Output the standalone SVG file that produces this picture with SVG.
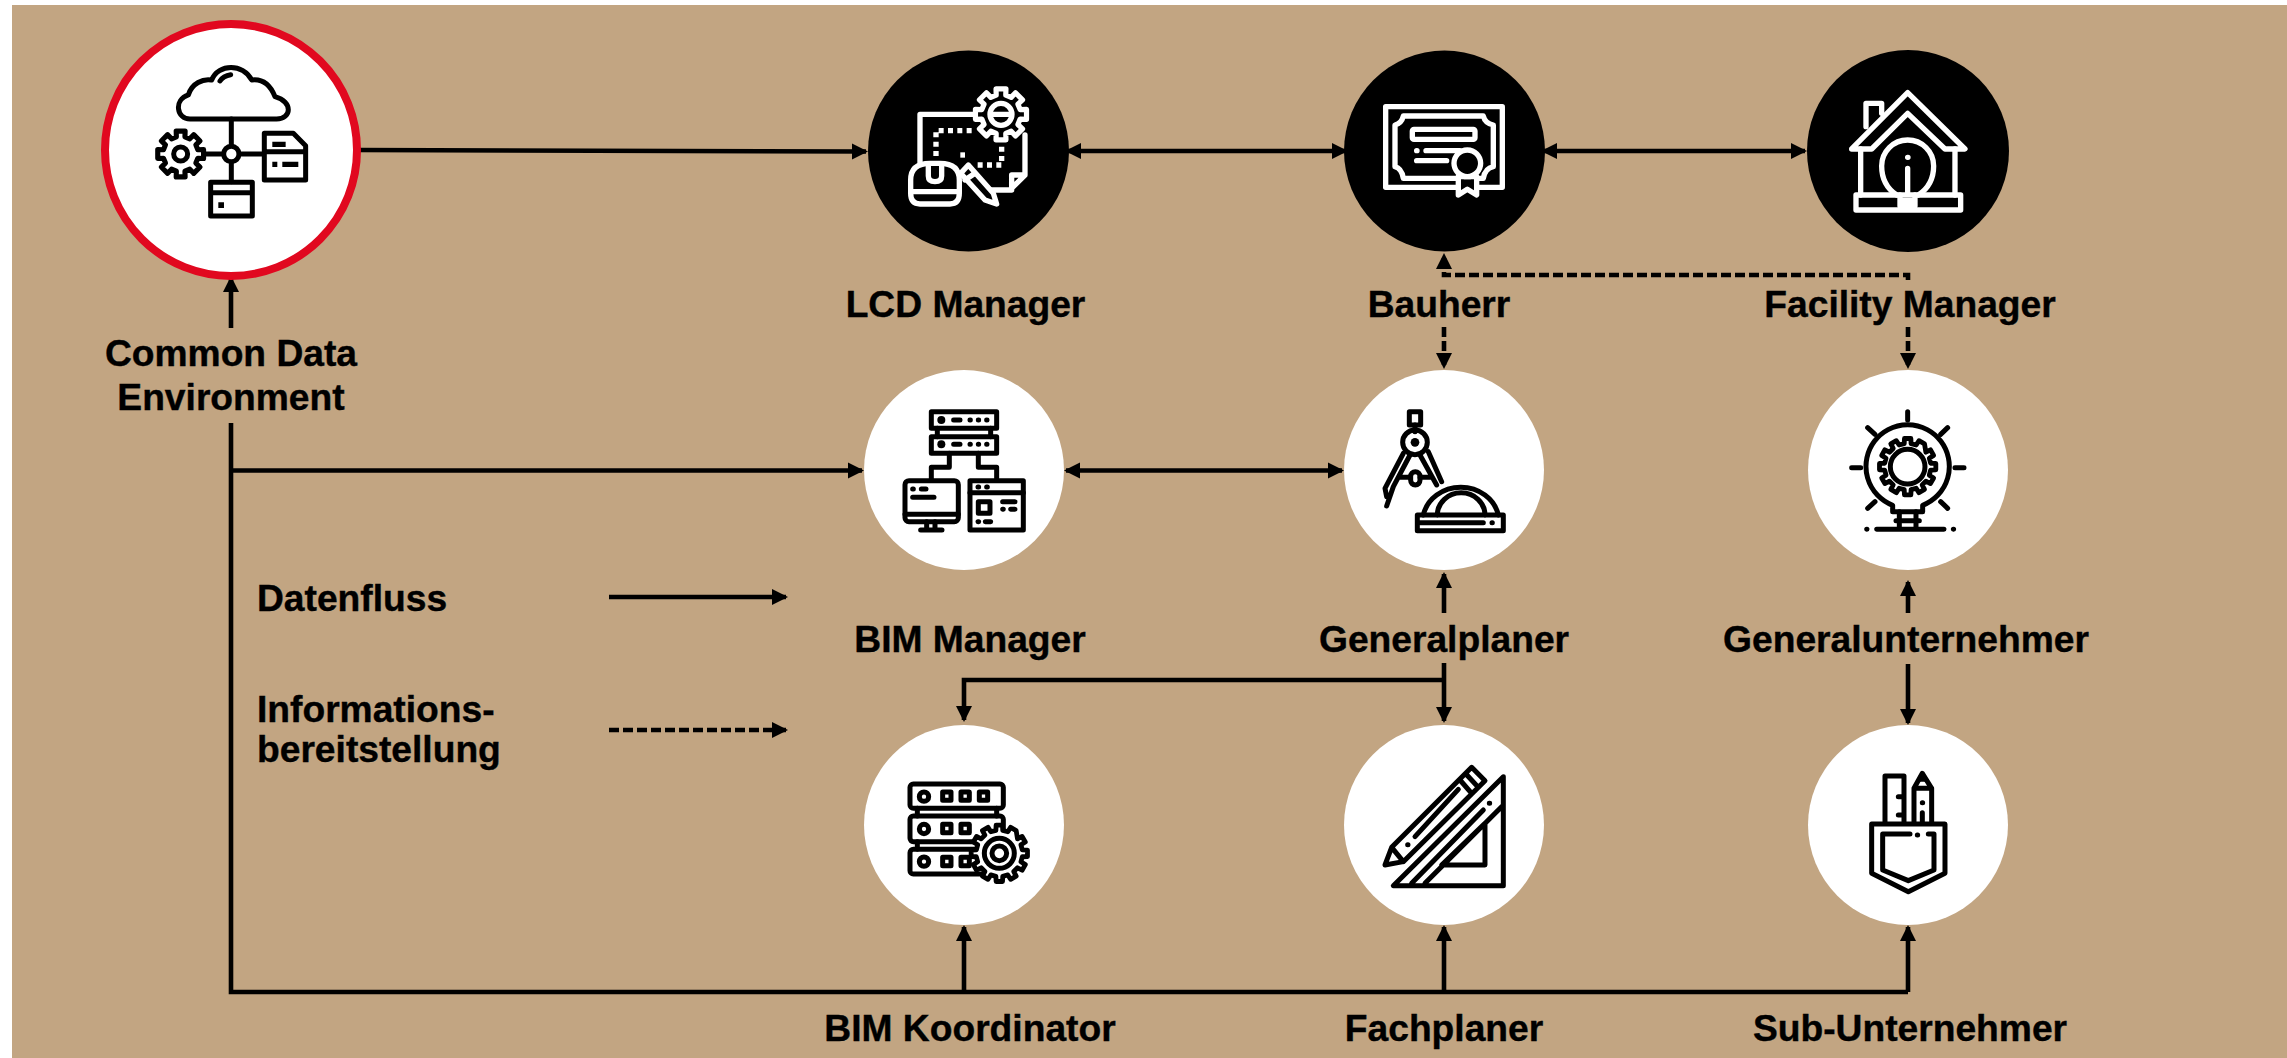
<svg xmlns="http://www.w3.org/2000/svg" width="2287" height="1058" viewBox="0 0 2287 1058">
<style>
text{font-family:"Liberation Sans",Arial,sans-serif;font-weight:700;font-size:37.2px;fill:#000;stroke:#000;stroke-width:.4px;text-anchor:middle}
.l{text-anchor:start}
.c{fill:none;stroke:#000;stroke-width:4.6}
.d{stroke-dasharray:10 4}
.s{marker-end:url(#a)}
.b{marker-start:url(#a);marker-end:url(#a)}
.k{fill:none;stroke:#000;stroke-width:15;stroke-linecap:round;stroke-linejoin:round}
.w{fill:none;stroke:#fff;stroke-width:16;stroke-linecap:round;stroke-linejoin:round}
.fk{fill:#000;stroke:none}
.fw{fill:#fff;stroke:none}
</style>
<defs>
<marker id="a" markerUnits="userSpaceOnUse" markerWidth="17" markerHeight="17" refX="14" refY="8.5" orient="auto-start-reverse"><path d="M0,0.5 L16,8.5 L0,16.5 Z"/></marker>
<path id="g8" d="M73.7,-18.4 L98.2,-19.1 L98.2,19.1 L73.7,18.4 L65.1,39.1 L82.9,55.9 L55.9,82.9 L39.1,65.1 L18.4,73.7 L19.1,98.2 L-19.1,98.2 L-18.4,73.7 L-39.1,65.1 L-55.9,82.9 L-82.9,55.9 L-65.1,39.1 L-73.7,18.4 L-98.2,19.1 L-98.2,-19.1 L-73.7,-18.4 L-65.1,-39.1 L-82.9,-55.9 L-55.9,-82.9 L-39.1,-65.1 L-18.4,-73.7 L-19.1,-98.2 L19.1,-98.2 L18.4,-73.7 L39.1,-65.1 L55.9,-82.9 L82.9,-55.9 L65.1,-39.1 Z"/>
<path id="g12" d="M81.1,-12.1 L99.4,-11.3 L99.4,11.3 L81.1,12.1 L76.3,30 L91.7,39.9 L80.4,59.5 L64.2,51 L51,64.2 L59.5,80.4 L39.9,91.7 L30,76.3 L12.1,81.1 L11.3,99.4 L-11.3,99.4 L-12.1,81.1 L-30,76.3 L-39.9,91.7 L-59.5,80.4 L-51,64.2 L-64.2,51 L-80.4,59.5 L-91.7,39.9 L-76.3,30 L-81.1,12.1 L-99.4,11.3 L-99.4,-11.3 L-81.1,-12.1 L-76.3,-30 L-91.7,-39.9 L-80.4,-59.5 L-64.2,-51 L-51,-64.2 L-59.5,-80.4 L-39.9,-91.7 L-30,-76.3 L-12.1,-81.1 L-11.3,-99.4 L11.3,-99.4 L12.1,-81.1 L30,-76.3 L39.9,-91.7 L59.5,-80.4 L64.2,-51 L80.4,-59.5 L91.7,-39.9 L76.3,-30 Z"/>
</defs>
<rect x="12" y="5" width="2275" height="1053" fill="#c2a582"/>

<g id="connectors">
<path class="c s" d="M358,150 L866,151.5"/>
<path class="c b" d="M1067,151 H1346"/>
<path class="c b" d="M1543,151 H1805"/>
<path class="c s" d="M231,328 V278"/>
<path class="c" d="M231,423 V992 H1908"/>
<path class="c s" d="M231,470.5 H862"/>
<path class="c b" d="M1066,470.5 H1342"/>
<path class="c s" d="M964,992 V927"/>
<path class="c s" d="M1444,992 V927"/>
<path class="c s" d="M1908,992 V927"/>
<path class="c s" d="M1444,613 V574"/>
<path class="c s" d="M1444,663 V721"/>
<path class="c s" d="M1444,680 H964 V720"/>
<path class="c s" d="M1908,613 V582"/>
<path class="c s" d="M1908,664 V723"/>
<path class="c d s" d="M1908,280 V275 H1444 V255"/>
<path class="c d s" d="M1444,327 V367"/>
<path class="c d s" d="M1908,327 V367"/>
<path class="c s" d="M609,597 H786"/>
<path class="c d s" d="M609,730 H786"/>
</g>

<g id="legend">
<text class="l" x="257" y="611">Datenfluss</text>
<text class="l" x="257" y="722">Informations-</text>
<text class="l" x="257" y="762">bereitstellung</text>
</g>

<g id="cde">
<circle cx="231" cy="150" r="126" fill="#fff" stroke="#e1081f" stroke-width="8"/>
<g transform="translate(80,0) scale(.3333)" class="k">
<path d="M330,357 C290,357 280,300 325,285 C335,250 370,235 395,240 C415,190 490,190 515,240 C555,235 575,265 585,290 C640,305 635,357 590,357 Z"/>
<path d="M420,243 Q430,227 452,224"/>
<path d="M454,357 V435 M375,462 H430 M478,462 H548 M454,490 V545"/>
<circle cx="454" cy="462" r="23"/>
<use href="#g8" transform="translate(302,462) scale(.7)" style="stroke-width:22"/>
<circle cx="302" cy="462" r="21"/>
<path d="M553,400 H640 L677,437 V540 H553 Z M392,547 H517 V648 H392 Z M392,578 H517 M562,455 H670"/>
<path class="fk" style="stroke:none" d="M577,425 H617 V441 H577 Z M577,485 H592 V501 H577 Z M607,485 H655 V501 H607 Z M415,607 H432 V624 H415 Z"/>
</g>
<text x="231" y="366">Common Data</text>
<text x="231" y="410">Environment</text>
</g>

<g id="lcd">
<circle cx="968.5" cy="151" r="100.5"/>
<g transform="translate(840,80) scale(.3333)" class="w">
<path d="M420,103 H240 V250 M555,165 V285 L510,330 H440 M515,330 V285 H555"/>
<path style="stroke-linecap:butt;stroke-dasharray:15 13" d="M395,152 H288 V228 M485,200 V255 H405"/>
<path style="stroke-linecap:butt" d="M361,225 H375"/>
<use href="#g8" transform="translate(483,103) scale(.78)" fill="#000" style="stroke-width:20"/>
<circle cx="483" cy="103" r="33"/>
<path d="M455,103 H510"/>
<path fill="#000" d="M362,280 L385,255 L460,340 L470,372 L435,360 Z M375,300 L405,280"/>
<path fill="#000" d="M212,340 V300 Q212,250 270,250 H300 Q358,250 358,300 V340 Q358,372 330,372 H240 Q212,372 212,340 Z M212,335 H358"/>
<path d="M265,255 V288 Q265,305 285,305 Q305,305 305,288 V255"/>
</g>
<text x="965.5" y="317">LCD Manager</text>
</g>

<g id="bauherr">
<circle cx="1444.5" cy="151" r="100.5"/>
<g transform="translate(1320,80) scale(.3333)" class="w">
<path d="M197,80 H547 V322 H197 Z"/>
<path d="M250,108 H490 Q495,130 520,135 V260 Q495,265 490,295 H250 Q245,265 225,260 V135 Q245,130 250,108 Z"/>
<rect x="277" y="148" width="188" height="30" rx="5"/>
<path d="M290,212 H291 M318,212 H420 M290,242 H380"/>
<path fill="#000" d="M415,290 V345 L442,328 L470,345 V290 Z"/>
<circle cx="442" cy="250" r="40" fill="#000"/>
</g>
<text x="1439" y="317">Bauherr</text>
</g>

<g id="facility">
<circle cx="1908" cy="151" r="101"/>
<g transform="translate(1780,80) scale(.3333)" class="w">
<path d="M215,207 L383,38 L555,207 H495 L383,100 L275,207 Z"/>
<path d="M258,140 V70 H305 V100 M242,207 V345 M525,207 V345"/>
<rect x="228" y="345" width="314" height="45"/>
<path d="M350,345 Q305,315 305,258 A78,78 0 1 1 461,258 Q461,315 415,345"/>
<path d="M360,345 V378 H405 V345 M360,362 H405 M383,265 V340 M383,232 H384"/>
</g>
<text x="1910" y="317">Facility Manager</text>
</g>

<g id="bim-manager">
<circle cx="964" cy="470" r="100" fill="#fff"/>
<g transform="translate(860,380) scale(.3333)" class="k">
<rect x="214" y="95" width="196" height="50"/>
<rect x="214" y="170" width="196" height="50"/>
<path d="M232,145 V170 M392,145 V170 M268,220 V262 H214 V300 M355,220 V262 H410 V300"/>
<path d="M281,120 H300 M330,120 H331 M355,120 H356 M380,120 H381 M281,193 H300 M330,193 H331 M355,193 H356 M380,193 H381"/>
<circle class="fk" style="stroke:none" cx="244" cy="120" r="12"/>
<circle class="fk" style="stroke:none" cx="244" cy="193" r="12"/>
<rect x="135" y="302" width="160" height="123" rx="12"/>
<path d="M135,403 H295 M200,425 V450 M225,425 V450 M182,450 H246 M158,327 H160 M184,327 H198 M158,352 H222"/>
<rect x="330" y="302" width="160" height="148"/>
<path d="M330,338 H490 M354,321 H356 M380,321 H382 M428,365 H465 M428,388 H430 M452,388 H465 M354,425 H356 M376,425 H392"/>
<rect x="355" y="365" width="35" height="35"/>
</g>
<text x="970" y="652">BIM Manager</text>
</g>

<g id="generalplaner">
<circle cx="1444" cy="470" r="100" fill="#fff"/>
<g transform="translate(1340,400) scale(.3333)" class="k">
<rect x="208" y="35" width="34" height="40"/>
<path d="M225,75 V95"/>
<circle cx="225" cy="127" r="37"/>
<circle class="fk" style="stroke:none" cx="225" cy="127" r="13"/>
<path d="M210,165 L160,260 L140,318 M190,160 L135,265 L140,290 M240,165 L290,255 M265,155 L305,245 M180,232 H210 M240,232 H275"/>
<rect x="212" y="215" width="28" height="40" rx="14"/>
<path d="M250,345 A115,105 0 0 1 475,345 M292,345 A70,65 0 0 1 435,345"/>
<rect x="232" y="345" width="258" height="47"/>
<path d="M240,368 H430 M456,368 H457"/>
</g>
<text x="1444" y="652">Generalplaner</text>
</g>

<g id="generalunternehmer">
<circle cx="1908" cy="470" r="100" fill="#fff"/>
<g transform="translate(1820,400) scale(.3333)" class="k">
<path d="M263,35 V60 M143,83 L165,103 M383,83 L362,103 M95,203 H122 M405,203 H432 M143,325 L165,305 M362,305 L383,325"/>
<path d="M218,335 V316 A125,125 0 1 1 308,316 V335 Z"/>
<use href="#g12" transform="translate(263,200) scale(.85)" style="stroke-width:17"/>
<circle cx="263" cy="200" r="52"/>
<path d="M228,362 H298 M238,335 V385 M288,335 V385 M170,388 H372 M140,388 H141 M400,388 H401"/>
</g>
<text x="1906" y="652">Generalunternehmer</text>
</g>

<g id="bim-koordinator">
<circle cx="964" cy="825" r="100" fill="#fff"/>
<g transform="translate(880,760) scale(.3333)" class="k">
<rect x="90" y="72" width="280" height="73" rx="10"/>
<rect x="90" y="168" width="280" height="77" rx="10"/>
<rect x="90" y="268" width="280" height="74" rx="10"/>
<path d="M112,145 V168 M350,145 V168 M112,245 V268"/>
<circle cx="132" cy="110" r="14"/><circle cx="132" cy="207" r="14"/><circle cx="132" cy="305" r="14"/>
<rect x="188" y="96" width="25" height="25"/><rect x="243" y="96" width="25" height="25"/><rect x="298" y="96" width="25" height="25"/>
<rect x="188" y="193" width="25" height="25"/><rect x="243" y="193" width="25" height="25"/>
<rect x="188" y="292" width="25" height="25"/><rect x="243" y="292" width="25" height="25"/>
<use href="#g12" transform="translate(358,280) scale(.85)" fill="#fff" style="stroke-width:17"/>
<circle cx="358" cy="280" r="45"/>
<circle cx="358" cy="280" r="22"/>
</g>
<text x="970" y="1041">BIM Koordinator</text>
</g>

<g id="fachplaner">
<circle cx="1444" cy="825" r="100" fill="#fff"/>
<g transform="translate(1360,750) scale(.3333)" class="k">
<path d="M75,345 L95,292 L335,52 L375,92 L130,335 Z M95,292 L130,335 M300,90 L335,130 M318,72 L355,112 M165,260 L295,118 M143,284 H144"/>
<path d="M100,407 H430 V80 Z M245,345 H375 V220 Z M155,400 L370,180 M195,400 L425,170 M388,160 H389"/>
</g>
<text x="1444" y="1041">Fachplaner</text>
</g>

<g id="sub-unternehmer">
<circle cx="1908" cy="825" r="100" fill="#fff"/>
<g transform="translate(1830,760) scale(.3333)" class="k">
<path d="M165,190 V48 H222 V190 M205,110 H222 M205,165 H222"/>
<path d="M252,190 V85 L277,40 L305,85 V190 M252,85 H305 M277,128 H278 M277,190 V158"/>
<path class="fk" d="M262,65 L277,40 L292,65 Z"/>
<path d="M125,192 H345 V340 L235,395 L125,340 Z"/>
<path d="M240,222 H158 V330 L235,362 L312,330 V222 H295 M262,225 H263"/>
</g>
<text x="1910" y="1041">Sub-Unternehmer</text>
</g>
</svg>
